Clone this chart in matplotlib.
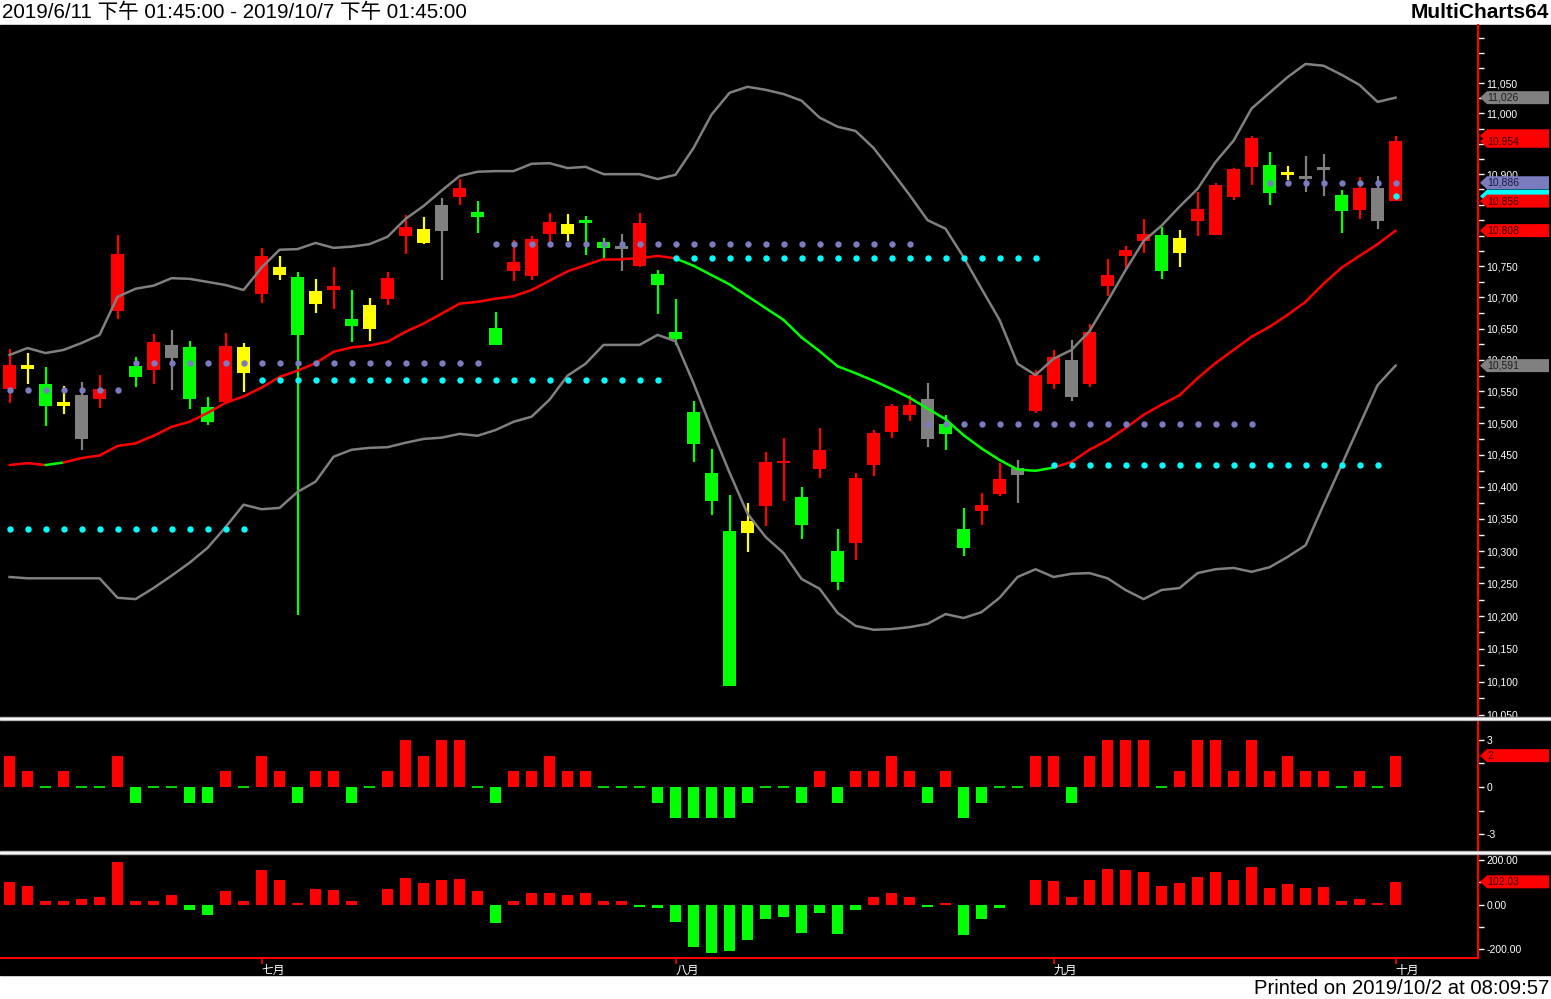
import numpy as np
import matplotlib
matplotlib.use("Agg")
import matplotlib.pyplot as plt
import matplotlib.ticker as mticker
from matplotlib.patches import Polygon, Rectangle

plt.rcParams['font.family'] = ['Liberation Sans', 'Noto Sans CJK TC']

# ---- data (daily bars 2019/6/11 .. 2019/10/1) ----
opens = [10554, 10586, 10562, 10527, 10544, 10538, 10678, 10591, 10584, 10603,
         10621, 10525, 10533, 10579, 10706, 10736, 10733, 10690, 10712, 10666,
         10650, 10698, 10799, 10788, 10808, 10863, 10838, 10651, 10743, 10735,
         10803, 10803, 10825, 10790, 10783, 10751, 10738, 10645, 10518, 10422,
         10331, 10328, 10370, 10437, 10384, 10428, 10300, 10313, 10434, 10486,
         10513, 10538, 10499, 10334, 10362, 10389, 10418, 10519, 10562, 10600,
         10562, 10719, 10767, 10791, 10801, 10772, 10824, 10801, 10863, 10912,
         10915, 10898, 10897, 10907, 10866, 10842, 10878, 10856]
highs = [10617, 10611, 10589, 10559, 10565, 10576, 10801, 10605, 10642, 10648,
         10630, 10541, 10643, 10627, 10780, 10767, 10741, 10730, 10749, 10712,
         10699, 10741, 10834, 10830, 10861, 10892, 10856, 10677, 10793, 10799,
         10837, 10835, 10832, 10796, 10803, 10837, 10744, 10698, 10535, 10459,
         10387, 10375, 10455, 10477, 10400, 10492, 10334, 10422, 10489, 10530,
         10544, 10563, 10513, 10367, 10390, 10437, 10442, 10584, 10616, 10632,
         10658, 10762, 10783, 10827, 10814, 10809, 10871, 10886, 10910, 10963,
         10937, 10913, 10930, 10933, 10874, 10896, 10897, 10963]
lows = [10532, 10562, 10495, 10514, 10458, 10524, 10666, 10557, 10562, 10552,
        10522, 10497, 10530, 10549, 10691, 10728, 10202, 10675, 10682, 10629,
        10630, 10688, 10770, 10786, 10728, 10850, 10804, 10624, 10727, 10728,
        10790, 10791, 10769, 10761, 10743, 10749, 10674, 10624, 10439, 10356,
        10093, 10299, 10339, 10378, 10318, 10414, 10240, 10286, 10417, 10477,
        10503, 10462, 10458, 10292, 10341, 10386, 10375, 10516, 10554, 10535,
        10557, 10702, 10744, 10772, 10730, 10749, 10799, 10801, 10858, 10882,
        10850, 10891, 10871, 10864, 10804, 10827, 10811, 10856]
closes = [10592, 10592, 10527, 10533, 10475, 10554, 10770, 10573, 10629, 10624,
          10538, 10502, 10622, 10621, 10767, 10749, 10640, 10710, 10718, 10654,
          10688, 10731, 10814, 10811, 10850, 10878, 10830, 10624, 10757, 10795,
          10822, 10819, 10820, 10780, 10778, 10820, 10720, 10634, 10467, 10378,
          10093, 10347, 10439, 10441, 10341, 10458, 10252, 10414, 10484, 10527,
          10529, 10475, 10483, 10305, 10372, 10412, 10429, 10576, 10605, 10541,
          10645, 10736, 10777, 10803, 10743, 10796, 10843, 10882, 10908, 10960,
          10869, 10904, 10892, 10912, 10840, 10878, 10824, 10954]
# R red, G green, Y yellow, N gray
candle_colors = "RYGYNRRGRNGGRYRYGYRGYRRYNRGGRRRYGGNRGGGGGYRRGRGRRRRNGGRRNRRNRRRRGYRRRRGYNNGRNR"

ma = [10434, 10437, 10434, 10438, 10445, 10449, 10464, 10468, 10480, 10494,
      10502, 10516, 10532, 10542, 10556, 10573, 10583, 10595, 10613, 10620,
      10623, 10629, 10645, 10658, 10674, 10690, 10693, 10698, 10702, 10712,
      10727, 10742, 10752, 10762, 10762, 10763, 10767, 10763, 10751, 10736,
      10721, 10702, 10683, 10664, 10636, 10614, 10590, 10579, 10567, 10554,
      10540, 10523, 10506, 10481, 10460, 10442, 10427, 10425, 10430, 10439,
      10458, 10473, 10492, 10513, 10529, 10544, 10571, 10595, 10616, 10637,
      10653, 10672, 10693, 10722, 10748, 10767, 10786, 10808]
bb_upper = [10608, 10619, 10611, 10616, 10627, 10640, 10701, 10714, 10719, 10731,
            10730, 10725, 10720, 10712, 10748, 10777, 10778, 10788, 10780, 10782,
            10786, 10798, 10827, 10848, 10873, 10897, 10904, 10905, 10905, 10917,
            10918, 10910, 10912, 10900, 10900, 10900, 10892, 10899, 10943, 10998,
            11034, 11044, 11039, 11032, 11021, 10993, 10978, 10971, 10943, 10905,
            10866, 10825, 10811, 10765, 10714, 10664, 10594, 10576, 10602, 10616,
            10646, 10694, 10744, 10791, 10816, 10847, 10876, 10920, 10955, 11008,
            11034, 11060, 11082, 11079, 11064, 11047, 11019, 11026]
bb_lower = [10260, 10258, 10258, 10258, 10258, 10258, 10228, 10226, 10243, 10262,
            10282, 10305, 10337, 10372, 10365, 10367, 10392, 10408, 10447, 10458,
            10461, 10462, 10469, 10475, 10477, 10483, 10480, 10489, 10502, 10510,
            10537, 10575, 10594, 10624, 10624, 10624, 10640, 10630, 10563, 10491,
            10422, 10358, 10322, 10297, 10257, 10242, 10205, 10185, 10179, 10180,
            10183, 10188, 10203, 10197, 10206, 10228, 10260, 10272, 10260, 10265,
            10266, 10258, 10240, 10226, 10240, 10243, 10266, 10272, 10274, 10268,
            10275, 10291, 10309, 10372, 10434, 10497, 10560, 10591]

# dotted support / resistance levels
levels = [10552, 10595, 10334, 10568, 10786, 10763, 10498, 10434, 10886, 10864]
level_start = [0, 7, 0, 14, 27, 37, 51, 58, 70, 77]
level_end = [6, 26, 13, 36, 50, 57, 69, 76, 77, 77]
level_kind = "BBCCBCBCBC"

hist1 = [2, 1, 0, 1, 0, 0, 2, -1, 0, 0,
         -1, -1, 1, 0, 2, 1, -1, 1, 1, -1,
         0, 1, 3, 2, 3, 3, 0, -1, 1, 1,
         2, 1, 1, 0, 0, 0, -1, -2, -2, -2,
         -2, -1, 0, 0, -1, 1, -1, 1, 1, 2,
         1, -1, 1, -2, -1, 0, 0, 2, 2, -1,
         2, 3, 3, 3, 0, 1, 3, 3, 1, 3,
         1, 2, 1, 1, 0, 1, 0, 2]
hist2 = [100, 82, 18, 18, 27, 32, 191, 14, 14, 45,
         -23, -45, 59, 14, 155, 109, 9, 68, 64, 14,
         -3, 68, 118, 95, 109, 114, 59, -82, 14, 50,
         50, 45, 50, 18, 14, -9, -14, -77, -191, -218,
         -209, -159, -64, -55, -127, -36, -132, -23, 32, 50,
         36, -9, 9, -136, -64, -14, 0, 109, 105, 36,
         109, 159, 155, 145, 82, 95, 123, 145, 109, 168,
         73, 91, 73, 77, 18, 23, 9, 102.03]

month_pos = [14, 37, 58, 77]
month_labels = ["七月", "八月", "九月", "十月"]

# price labels that stay visible (the others sit under the value tags)
price_labels = [10050, 10100, 10150, 10200, 10250, 10300, 10350, 10400, 10450,
                10500, 10550, 10600, 10650, 10700, 10750, 10900, 11000, 11050]

RED, GREEN, YELLOW, GRAY = "#FF0000", "#00FF00", "#FFFF00", "#808080"
SLATE, CYAN = "#7B7BC0", "#00FFFF"
palette = {"R": RED, "G": GREEN, "Y": YELLOW, "N": GRAY}

W, H = 1551, 999
fig = plt.figure(figsize=(W / 100, H / 100), dpi=100, facecolor="white")


def box(x0, y0, x1, y1):
    return [x0 / W, 1 - y1 / H, (x1 - x0) / W, (y1 - y0) / H]


fig.add_artist(Rectangle((0, 1 - 975 / H), 1, 950 / H, transform=fig.transFigure,
                         color="black", zorder=-5))

ax1 = fig.add_axes(box(0, 25, 1478, 716))
ax2 = fig.add_axes(box(0, 720, 1478, 850))
ax3 = fig.add_axes(box(0, 854, 1478, 958))

for ax in (ax1, ax2, ax3):
    ax.set_facecolor("black")
    for s in ("left", "top", "bottom"):
        ax.spines[s].set_visible(False)
    ax.spines["right"].set_color(RED)
    ax.spines["right"].set_linewidth(1.5)
    ax.yaxis.set_ticks_position("right")
    ax.tick_params(axis="y", which="both", direction="out", color="white",
                   labelcolor="white", labelsize=7.5, length=4, width=1, pad=2)
    ax.set_xlim(-0.53, 81.58)

n = len(closes)
x = np.arange(n)

# ---- price panel ----
ax1.set_yscale("log")
ax1.set_ylim(10048, 11147)
ax1.yaxis.set_major_locator(mticker.FixedLocator(price_labels))
minor = [v for v in np.arange(10025, 11150, 25) if v not in price_labels]
ax1.yaxis.set_minor_locator(mticker.FixedLocator(minor))
ax1.yaxis.set_major_formatter(mticker.FuncFormatter(lambda v, p: f"{v:,.0f}"))
ax1.yaxis.set_minor_formatter(mticker.NullFormatter())
ax1.tick_params(axis="x", which="both", bottom=False, labelbottom=False)

cols = [palette[c] for c in candle_colors]
ax1.vlines(x, lows, highs, colors=cols, lw=1.6, zorder=2)
o = np.array(opens, float)
c = np.array(closes, float)
bot = np.minimum(o, c)
top = np.maximum(o, c)
mid = (bot + top) / 2
thin = (top - bot) < 4
bot[thin] = mid[thin] - 2
top[thin] = mid[thin] + 2
ax1.bar(x, top - bot, bottom=bot, width=0.7, color=cols, zorder=2)

ax1.plot(x, bb_upper, color=GRAY, lw=1.8, zorder=3)
ax1.plot(x, bb_lower, color=GRAY, lw=1.8, zorder=3)
for i in range(n - 1):
    seg = RED if i == 0 or ma[i] >= ma[i - 1] else GREEN
    ax1.plot([i, i + 1], [ma[i], ma[i + 1]], color=seg, lw=1.8, zorder=3,
             solid_capstyle="round")

for lv, s, e, k in zip(levels, level_start, level_end, level_kind):
    xs = np.arange(s, e + 1)
    ax1.plot(xs, [lv] * len(xs), "o", color=SLATE if k == "B" else CYAN,
             ms=4.6, mec="none", zorder=4)

# ---- indicator 1 ----
ax2.set_ylim(-4.01, 4.27)
ax2.yaxis.set_major_locator(mticker.FixedLocator([-3, 0, 3]))
ax2.yaxis.set_minor_locator(mticker.FixedLocator([-1.5, 1.5]))
ax2.yaxis.set_major_formatter(mticker.FormatStrFormatter("%d"))
ax2.tick_params(axis="x", which="both", bottom=False, labelbottom=False)
h1 = np.array(hist1, float)
ax2.bar(x, h1, width=0.62, color=[RED if v > 0 else GREEN for v in h1])
z = x[h1 == 0]
ax2.hlines(np.zeros(len(z)), z - 0.31, z + 0.31, color=GREEN, lw=1.2)

# ---- indicator 2 ----
ax3.set_ylim(-240, 227)
ax3.yaxis.set_major_locator(mticker.FixedLocator([-200, 0, 200]))
ax3.yaxis.set_minor_locator(mticker.FixedLocator([-100, 100]))
ax3.yaxis.set_major_formatter(mticker.FormatStrFormatter("%.2f"))
h2 = np.array(hist2, float)
ax3.bar(x, h2, width=0.62, color=[RED if v > 0 else GREEN for v in h2])
ax3.spines["bottom"].set_visible(True)
ax3.spines["bottom"].set_color(RED)
ax3.spines["bottom"].set_linewidth(1.5)
ax3.set_xticks(month_pos)
ax3.set_xticklabels(month_labels, fontfamily="Noto Sans CJK TC", fontsize=8.5)
ax3.tick_params(axis="x", direction="out", color=RED, labelcolor="white",
                length=4, width=1.2, pad=0)
for lab in ax3.get_xticklabels():
    lab.set_ha("left")


# ---- value tags on the price scale ----
def tag(ax, value, label, fc, tc):
    y = ax.transData.transform((0, value))[1]
    x0, x1, h = 1480, 1549, 6.5
    pts = [(x0, y), (x0 + 7, y + h), (x1, y + h), (x1, y - h), (x0 + 7, y - h)]
    fig.add_artist(Polygon([(px / W, py / H) for px, py in pts], closed=True,
                           transform=fig.transFigure, fc=fc, ec="none", zorder=10))
    if label:
        fig.text((x0 + 7) / W, y / H, label, color=tc, fontsize=7.5, va="center",
                 ha="left", zorder=11)


tag(ax1, 11026, "11,026", GRAY, "#1e1e1e")
tag(ax1, 10963, "", RED, "#3a0000")          # covered by the 10,954 tag
tag(ax1, 10954, "10,954", RED, "#3a0000")
tag(ax1, 10886, "10,886", SLATE, "#1a1a3a")
tag(ax1, 10864, "", CYAN, "#003a3a")         # covered by the 10,856 tag
tag(ax1, 10856, "10,856", RED, "#3a0000")
tag(ax1, 10808, "10,808", RED, "#3a0000")
tag(ax1, 10591, "10,591", GRAY, "#1e1e1e")
tag(ax2, 2, "2", RED, "#3a0000")
tag(ax3, 102.03, "102.03", RED, "#3a0000")

# panel separators
for yy in (716.5, 850.5):
    fig.add_artist(Rectangle((0, 1 - (yy + 3.5) / H), 1, 3.5 / H,
                             transform=fig.transFigure, color="#A8A8A8", zorder=12))
    fig.add_artist(Rectangle((0, 1 - (yy + 2.2) / H), 1, 1.2 / H,
                             transform=fig.transFigure, color="#F4F4F4", zorder=13))

# header / footer
fig.text(2 / W, 1 - 12.5 / H, "2019/6/11 下午 01:45:00 - 2019/10/7 下午 01:45:00",
         fontsize=14.8, va="center", ha="left", color="black")
fig.text(1549 / W, 1 - 12.5 / H, "MultiCharts64", fontsize=15, fontweight="bold",
         va="center", ha="right", color="black")
fig.text(1549 / W, 1 - 988 / H, "Printed on 2019/10/2 at 08:09:57", fontsize=14.6,
         va="center", ha="right", color="black")

fig.savefig("out.png", dpi=100, facecolor="white")
